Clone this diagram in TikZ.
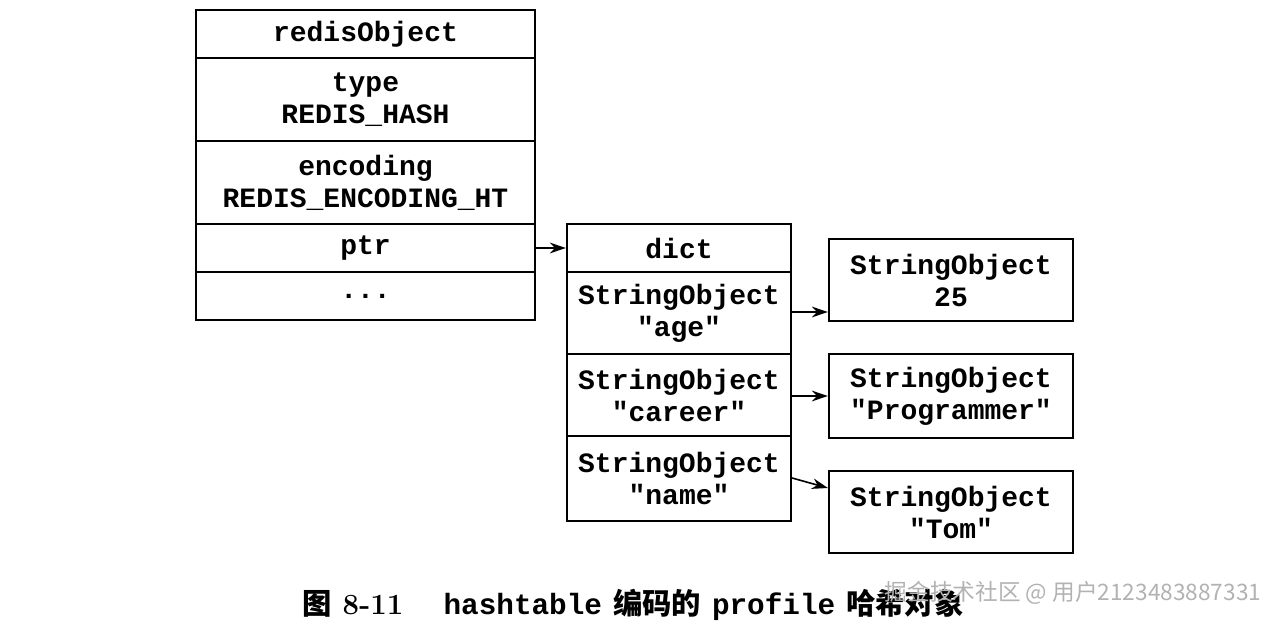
\documentclass[tikz,border=0pt]{standalone}
\usepackage{fontspec}
\setmonofont{Liberation Mono}
\newfontfamily\cjk{Noto Sans CJK SC}
\usetikzlibrary{arrows.meta}
\begin{document}
\begin{tikzpicture}[x=0.75pt,y=-0.75pt,
  cell/.style={draw,line width=1.6pt,inner sep=0pt,align=center,font=\ttfamily\bfseries\fontsize{21}{24}\selectfont},
  arr/.style={-{Stealth[length=12pt,width=8pt]},line width=1.2pt}]
\useasboundingbox (0,0) rectangle (1284,627);
\newcommand\cellbox[6]{\node[cell,minimum width=#4*0.75pt-#2*0.75pt,minimum height=#5*0.75pt-#3*0.75pt] (#1) at ({(#2+#4)/2},{(#3+#5)/2}) {#6};}
\cellbox{ro}{196}{10}{535}{58}{redisObject}
\cellbox{type}{196}{58}{535}{141}{type\\REDIS\_HASH}
\cellbox{enc}{196}{141}{535}{224}{encoding\\REDIS\_ENCODING\_HT}
\cellbox{ptr}{196}{224}{535}{272}{ptr}
\cellbox{dots}{196}{272}{535}{320}{...}
\cellbox{dict}{567}{224}{791}{272}{dict}
\cellbox{kage}{567}{272}{791}{354}{StringObject\\"age"}
\cellbox{kcar}{567}{354}{791}{436}{StringObject\\"career"}
\cellbox{knam}{567}{436}{791}{521}{StringObject\\"name"}
\cellbox{vage}{829}{239}{1073}{321}{StringObject\\25}
\cellbox{vcar}{829}{354}{1073}{438}{StringObject\\"Programmer"}
\cellbox{vnam}{829}{471}{1073}{553}{StringObject\\"Tom"}
\draw[arr] (ptr.east) -- (dict.west);
\draw[arr] (kage.east |- 0,312) -- (vage.west |- 0,312);
\draw[arr] (kcar.east |- 0,396) -- (vcar.west |- 0,396);
\draw[arr] (knam.east |- 0,478) -- (vnam.west |- 0,488);
\node[font=\bfseries\fontsize{22}{26}\selectfont] (cap) at (633,605) {{\cjk\bfseries 图} 8-11\quad\ {\ttfamily hashtable} {\cjk\bfseries 编码的} {\ttfamily profile} {\cjk\bfseries 哈希对象}};
\node[anchor=east,text=gray!60,font=\cjk\fontsize{17}{20}\selectfont] (wm) at (1266,593) {掘金技术社区 @ 用户2123483887331};
\end{tikzpicture}
\end{document}
